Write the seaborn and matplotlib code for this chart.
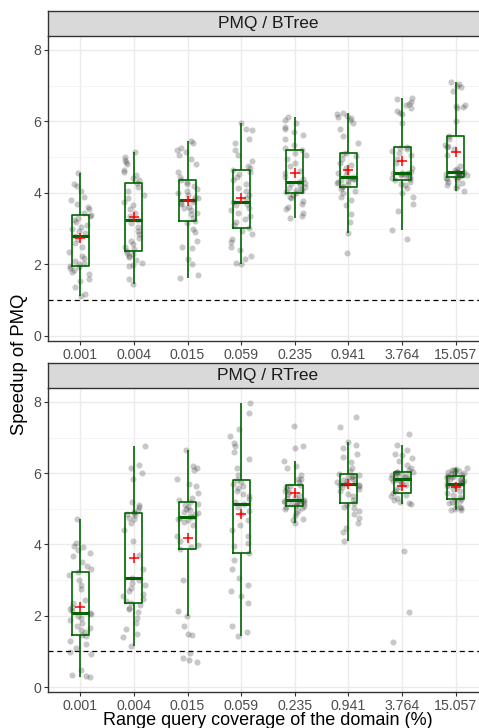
import numpy as np
import pandas as pd
import matplotlib
matplotlib.use("Agg")
import matplotlib.pyplot as plt
import seaborn as sns

# ---------------- data ----------------
categories = ["0.001", "0.004", "0.015", "0.059", "0.235", "0.941", "3.764", "15.057"]
panels = ["PMQ / BTree", "PMQ / RTree"]

btree_0001 = [1.12, 1.17, 1.38, 1.55, 1.60, 1.72, 1.80, 1.85, 1.90, 1.94, 1.96,
              2.00, 2.05, 2.10, 2.18, 2.25, 2.35, 2.48, 2.60, 2.70, 2.80,
              2.88, 2.95, 3.00, 3.05, 3.10, 3.18, 3.25, 3.30, 3.35, 3.37,
              3.45, 3.55, 3.62, 3.70, 3.80, 3.90, 4.05, 4.20, 4.25, 4.57]
btree_0004 = [1.45, 1.60, 1.95, 1.98, 2.05, 2.12, 2.20, 2.25, 2.28, 2.32, 2.37,
              2.42, 2.50, 2.58, 2.65, 2.75, 2.85, 2.95, 3.05, 3.15, 3.24,
              3.35, 3.45, 3.55, 3.65, 3.75, 3.85, 3.95, 4.05, 4.18, 4.29,
              4.35, 4.42, 4.50, 4.60, 4.65, 4.80, 4.88, 4.92, 5.00, 5.14]
btree_0015 = [1.61, 1.70, 2.00, 2.15, 2.45, 2.50, 2.65, 2.90, 3.00, 3.15, 3.23,
              3.30, 3.40, 3.45, 3.52, 3.58, 3.62, 3.68, 3.72, 3.76, 3.80,
              3.85, 3.90, 3.95, 4.00, 4.05, 4.12, 4.20, 4.25, 4.30, 4.36,
              4.45, 4.60, 4.80, 4.95, 5.05, 5.15, 5.20, 5.25, 5.40, 5.45]
btree_0059 = [2.00, 2.05, 2.15, 2.25, 2.40, 2.50, 2.62, 2.70, 2.85, 2.95, 3.03,
              3.10, 3.20, 3.28, 3.35, 3.45, 3.52, 3.58, 3.65, 3.70, 3.76,
              3.85, 3.95, 4.05, 4.15, 4.25, 4.35, 4.45, 4.52, 4.60, 4.64,
              4.70, 4.75, 4.90, 5.05, 5.20, 5.40, 5.50, 5.75, 5.80, 5.97]
btree_0235 = [3.29, 3.35, 3.45, 3.55, 3.62, 3.70, 3.78, 3.85, 3.90, 3.95, 3.99,
              4.02, 4.05, 4.08, 4.12, 4.15, 4.18, 4.22, 4.25, 4.28, 4.32,
              4.38, 4.45, 4.55, 4.62, 4.75, 4.85, 4.95, 5.05, 5.12, 5.20,
              5.25, 5.35, 5.50, 5.62, 5.70, 5.78, 5.85, 5.95, 6.05, 6.12]
btree_0941 = [2.33, 2.87, 3.20, 3.42, 3.65, 3.80, 3.90, 4.00, 4.05, 4.10, 4.16,
              4.20, 4.24, 4.27, 4.30, 4.33, 4.36, 4.38, 4.40, 4.42, 4.44,
              4.50, 4.55, 4.62, 4.70, 4.78, 4.85, 4.95, 5.02, 5.08, 5.13,
              5.40, 5.60, 5.80, 5.95, 6.05, 6.10, 6.12, 6.15, 6.20, 6.25]
btree_3764 = [2.70, 2.97, 3.50, 3.70, 3.90, 4.00, 4.15, 4.22, 4.26, 4.30, 4.35,
              4.38, 4.41, 4.44, 4.47, 4.50, 4.52, 4.54, 4.55, 4.56, 4.57,
              4.60, 4.70, 4.85, 4.95, 5.05, 5.12, 5.18, 5.22, 5.26, 5.28,
              5.95, 6.20, 6.25, 6.30, 6.38, 6.45, 6.50, 6.55, 6.62, 6.67]
btree_15057 = [4.06, 4.15, 4.20, 4.22, 4.28, 4.32, 4.36, 4.40, 4.42, 4.44, 4.46,
               4.48, 4.50, 4.51, 4.52, 4.54, 4.55, 4.56, 4.58, 4.59, 4.60,
               4.63, 4.68, 4.75, 5.05, 5.22, 5.28, 5.30, 5.35, 5.50, 5.60,
               6.00, 6.38, 6.40, 6.42, 6.45, 6.85, 6.95, 7.00, 7.05, 7.10]

rtree_0001 = [0.28, 0.30, 0.33, 0.48, 0.92, 0.98, 1.10, 1.22, 1.28, 1.42, 1.46,
              1.55, 1.60, 1.65, 1.72, 1.80, 1.88, 1.95, 2.00, 2.05, 2.09,
              2.12, 2.18, 2.25, 2.35, 2.45, 2.75, 2.85, 3.00, 3.15, 3.23,
              3.30, 3.40, 3.50, 3.68, 3.75, 3.85, 3.92, 3.97, 4.05, 4.72]
rtree_0004 = [1.14, 1.40, 1.50, 1.62, 1.80, 1.95, 2.10, 2.22, 2.18, 2.30, 2.37,
              2.42, 2.48, 2.55, 2.62, 2.70, 2.78, 2.85, 2.92, 3.00, 3.05,
              3.30, 3.70, 4.10, 4.40, 4.60, 4.72, 4.75, 4.82, 4.86, 4.88,
              4.92, 4.98, 5.05, 5.12, 5.20, 5.85, 6.00, 6.15, 6.22, 6.76]
rtree_0015 = [0.70, 0.75, 0.80, 0.95, 1.45, 1.50, 1.70, 2.00, 2.12, 3.00, 3.88,
              3.92, 3.98, 4.10, 4.25, 4.55, 4.62, 4.68, 4.72, 4.75, 4.77,
              4.80, 4.85, 4.88, 4.92, 4.96, 5.00, 5.05, 5.10, 5.14, 5.18,
              5.25, 5.30, 5.45, 5.65, 5.70, 5.85, 6.10, 6.15, 6.20, 6.65]
rtree_0059 = [1.44, 1.55, 1.70, 2.35, 2.55, 2.70, 2.85, 3.05, 3.30, 3.55, 3.77,
              3.95, 4.05, 4.25, 4.40, 4.55, 4.70, 4.85, 4.95, 5.05, 5.13,
              5.20, 5.28, 5.35, 5.42, 5.50, 5.58, 5.65, 5.70, 5.75, 5.80,
              5.95, 6.15, 6.40, 6.60, 6.75, 6.85, 7.05, 7.25, 7.70, 7.98]
rtree_0235 = [4.60, 4.68, 4.72, 4.80, 4.88, 4.95, 5.00, 5.02, 5.05, 5.07, 5.09,
              5.11, 5.13, 5.15, 5.17, 5.19, 5.20, 5.22, 5.23, 5.25, 5.26,
              5.30, 5.34, 5.38, 5.42, 5.46, 5.50, 5.55, 5.60, 5.63, 5.66,
              5.75, 5.85, 5.85, 5.95, 6.15, 6.20, 6.34, 6.70, 6.75, 7.33]
rtree_0941 = [4.09, 4.35, 4.45, 4.60, 4.75, 4.85, 4.95, 5.02, 5.06, 5.12, 5.16,
              5.25, 5.35, 5.42, 5.50, 5.55, 5.60, 5.63, 5.66, 5.68, 5.70,
              5.72, 5.75, 5.78, 5.82, 5.85, 5.88, 5.90, 5.93, 5.96, 5.98,
              6.05, 6.15, 6.30, 6.45, 6.55, 6.70, 6.80, 6.87, 7.30, 7.57]
rtree_3764 = [1.25, 2.10, 3.82, 5.13, 5.15, 5.20, 5.25, 5.30, 5.35, 5.40, 5.44,
              5.50, 5.56, 5.62, 5.68, 5.72, 5.76, 5.79, 5.82, 5.84, 5.85,
              5.87, 5.90, 5.92, 5.94, 5.96, 5.98, 6.00, 6.02, 6.03, 6.04,
              6.08, 6.15, 6.22, 6.35, 6.42, 6.50, 6.55, 6.65, 6.78, 7.10]
rtree_15057 = [4.96, 4.98, 5.00, 5.02, 5.05, 5.10, 5.15, 5.18, 5.22, 5.25, 5.27,
               5.32, 5.38, 5.45, 5.50, 5.55, 5.60, 5.64, 5.66, 5.68, 5.70,
               5.72, 5.75, 5.78, 5.80, 5.83, 5.85, 5.87, 5.89, 5.91, 5.93,
               5.95, 5.97, 6.00, 6.02, 6.04, 6.06, 6.08, 6.10, 6.12, 6.14]

btree_groups = [btree_0001, btree_0004, btree_0015, btree_0059,
                btree_0235, btree_0941, btree_3764, btree_15057]
rtree_groups = [rtree_0001, rtree_0004, rtree_0015, rtree_0059,
                rtree_0235, rtree_0941, rtree_3764, rtree_15057]


def to_frame(groups):
    rows = []
    for cat, vals in zip(categories, groups):
        for v in vals:
            rows.append((cat, v))
    return pd.DataFrame(rows, columns=["coverage", "speedup"])


frames = [to_frame(btree_groups), to_frame(rtree_groups)]

# ---------------- styling ----------------
plt.rcParams["font.family"] = ["Liberation Sans", "DejaVu Sans"]
np.random.seed(3)

W, H = 479, 728
fig = plt.figure(figsize=(W / 100, H / 100), dpi=100)

left_px, right_px = 48, 488
panel_px = [(36, 341), (388, 692)]
strip_px = [(11, 36), (363, 388)]


def fx(px):
    return px / W


def fy(top, bottom):
    return (H - bottom) / H, (bottom - top) / H


for i, df in enumerate(frames):
    b, h = fy(*panel_px[i])
    ax = fig.add_axes([fx(left_px), b, fx(right_px - left_px), h])
    ax.set_facecolor("white")
    ax.set_axisbelow(True)

    sns.stripplot(data=df, x="coverage", y="speedup", order=categories,
                  jitter=0.21, size=4.4, color="#2b2b2b", alpha=0.26,
                  linewidth=0, ax=ax, zorder=2)
    sns.boxplot(data=df, x="coverage", y="speedup", order=categories,
                width=0.32, fill=False, color="#006400", linewidth=1.2,
                showfliers=False, showcaps=False, whis=1.5,
                medianprops=dict(linewidth=2.2), ax=ax, zorder=3)
    sns.pointplot(data=df, x="coverage", y="speedup", order=categories,
                  estimator="mean", errorbar=None, linestyle="none",
                  marker="+", markersize=6.5, markeredgewidth=1.1,
                  color="red", ax=ax, zorder=4)
    ax.axhline(1, color="black", lw=0.9, ls=(0, (4, 3)), zorder=1.5)

    ax.set_xlim(-0.6, 7.6)
    ax.set_ylim(-0.14, 8.39)
    ax.set_yticks([0, 2, 4, 6, 8])
    ax.set_yticks([1, 3, 5, 7], minor=True)
    ax.grid(True, which="major", color="#EBEBEB", lw=1.0)
    ax.grid(True, which="minor", axis="y", color="#F3F3F3", lw=0.6)
    ax.set_xlabel("")
    ax.set_ylabel("")
    ax.tick_params(axis="both", which="major", direction="out", length=3,
                   width=0.8, color="#333333", labelcolor="#4D4D4D",
                   labelsize=10.2, pad=2)
    ax.tick_params(axis="y", which="minor", length=0)
    for s in ["top", "right"]:
        ax.spines[s].set_visible(False)
    for s in ["left", "bottom"]:
        ax.spines[s].set_color("#333333")
        ax.spines[s].set_linewidth(1.0)

    sb, sh = fy(*strip_px[i])
    sax = fig.add_axes([fx(left_px), sb, fx(right_px - left_px), sh])
    sax.set_facecolor("#D9D9D9")
    sax.set_xticks([])
    sax.set_yticks([])
    for s in sax.spines.values():
        s.set_color("#333333")
        s.set_linewidth(1.0)
    sax.text(0.5, 0.5, panels[i], ha="center", va="center",
             transform=sax.transAxes, fontsize=12.5, color="#1A1A1A")

fig.text(fx(20), 0.5, "Speedup of PMQ", rotation=90, ha="center",
         va="center", fontsize=13.3, color="black")
fig.text(fx((left_px + right_px) / 2), 1 - 712 / H,
         "Range query coverage of the domain (%)", ha="center",
         va="top", fontsize=13, color="black")

fig.savefig("out.png", dpi=100)
